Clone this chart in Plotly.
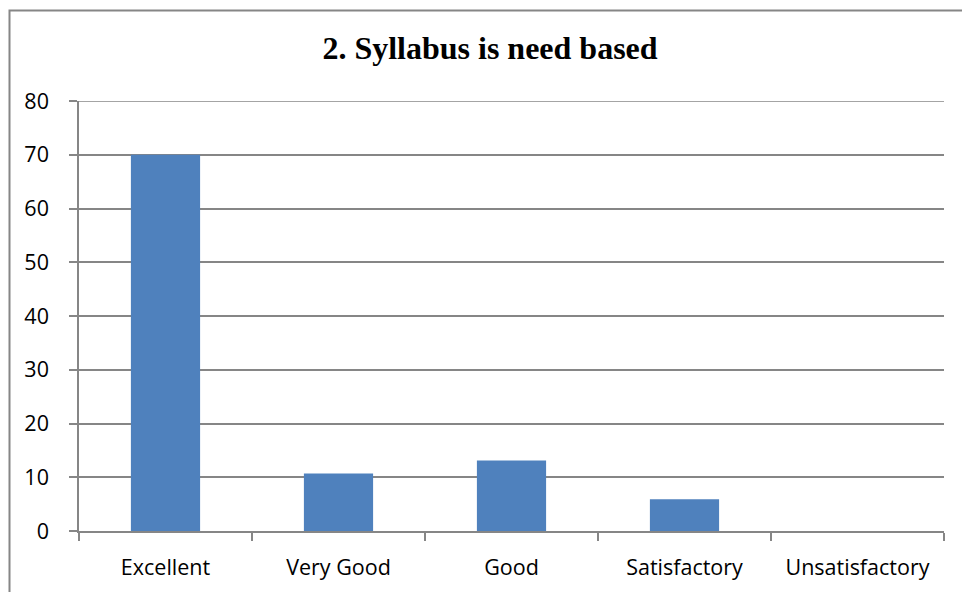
import plotly.graph_objects as go

categories = ["Excellent", "Very Good", "Good", "Satisfactory", "Unsatisfactory"]
values = [70, 10.7, 13.1, 5.9, 0]
y_ticks = [0, 10, 20, 30, 40, 50, 60, 70, 80]
title_text = "2. Syllabus is need based"

GRID = "#868686"
BAR = "#4F81BD"

fig = go.Figure(
    go.Bar(
        x=categories,
        y=values,
        marker=dict(color=BAR, line=dict(width=0)),
        width=0.4,
    )
)

W, H = 962, 592
L, R, T, B = 79, 18, 101, 60.5
pw = W - L - R
ph = H - T - B

fig.update_layout(
    width=W,
    height=H,
    margin=dict(l=L, r=R, t=T, b=B, pad=0),
    paper_bgcolor="white",
    plot_bgcolor="white",
    showlegend=False,
    title=dict(
        text="<b>" + title_text + "</b>",
        font=dict(family="Liberation Serif", size=32, color="black"),
        x=490 / W,
        xanchor="center",
        xref="container",
        y=1 - 48 / H,
        yanchor="middle",
    ),
    xaxis=dict(
        tickfont=dict(family="Open Sans", size=21.5, color="black"),
        showline=True,
        linecolor=GRID,
        linewidth=1.5,
        ticks="outside",
        tickson="boundaries",
        ticklen=8,
        tickcolor=GRID,
        tickwidth=1.5,
        showgrid=False,
        ticklabelstandoff=16,
    ),
    yaxis=dict(
        range=[0, 80],
        tickvals=y_ticks,
        tickfont=dict(family="Open Sans", size=21.5, color="black"),
        showline=True,
        linecolor=GRID,
        linewidth=1.5,
        ticks="outside",
        ticklen=8,
        tickcolor=GRID,
        tickwidth=1.5,
        showgrid=True,
        gridcolor=GRID,
        gridwidth=1.5,
        zeroline=False,
        ticklabelstandoff=16,
    ),
    shapes=[
        dict(
            type="rect",
            xref="paper",
            yref="paper",
            x0=(9.5 - L) / pw,
            x1=(W + 10 - L) / pw,
            y0=-(B + 10) / ph,
            y1=1 + (T - 10.5) / ph,
            line=dict(color=GRID, width=2),
            fillcolor="rgba(0,0,0,0)",
            layer="below",
        ),
        dict(
            type="line",
            xref="paper",
            yref="y",
            x0=0,
            x1=1,
            y0=y_ticks[-1],
            y1=y_ticks[-1],
            line=dict(color=GRID, width=1.5),
            layer="below",
        ),
    ],
)

fig.write_html(
    "out.html",
    config={"displayModeBar": False},
    post_script="document.body.style.margin='0';document.body.style.overflow='hidden';",
)
